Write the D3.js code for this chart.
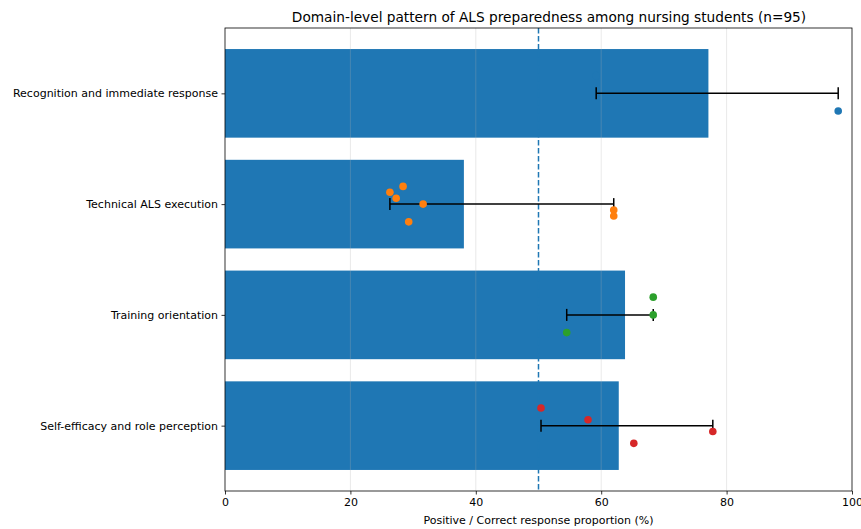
<!DOCTYPE html>
<html>
<head>
<meta charset="utf-8">
<script src="https://cdn.jsdelivr.net/npm/d3@7"></script>
<style>
  body { margin: 0; background: #fff; }
  text { font-family: "DejaVu Sans", sans-serif; fill: #000; }
</style>
</head>
<body>
<div id="chart"></div>
<script>
const categories = [
  'Recognition and immediate response',
  'Technical ALS execution',
  'Training orientation',
  'Self-efficacy and role perception'
];
const barValues = [77.1, 38.1, 63.8, 62.8];
const itemValues = [
  [59.2, 97.8],
  [28.4, 26.3, 27.3, 31.6, 62.0, 62.0, 29.3],
  [68.3, 68.3, 54.5],
  [50.4, 57.9, 77.8, 65.2]
];
const dotColors = ['#1f77b4', '#ff7f0e', '#2ca02c', '#d62728'];
const xTicks = [0, 20, 40, 60, 80, 100];
const refLine = 50;

const width = 861, height = 529;
const margin = { top: 28, right: 9, bottom: 38, left: 225 };

const svg = d3.select('#chart').append('svg')
  .attr('width', width)
  .attr('height', height);

const x = d3.scaleLinear().domain([0, 100]).range([margin.left, width - margin.right]);
// bars occupy index +/- 0.4, with 5% margins like matplotlib
const y = d3.scaleLinear().domain([-0.59, categories.length - 1 + 0.59]).range([margin.top, height - margin.bottom]);
const bandPx = y(1) - y(0);

// bars
svg.append('g').selectAll('rect')
  .data(barValues)
  .enter()
  .append('rect')
  .attr('x', x(0))
  .attr('y', (d, i) => y(i - 0.4))
  .attr('width', d => x(d) - x(0))
  .attr('height', 0.8 * bandPx)
  .attr('fill', '#1f77b4');

// grid on top of bars
svg.append('g').selectAll('line')
  .data(xTicks.slice(1, -1))
  .enter()
  .append('line')
  .attr('x1', d => x(d)).attr('x2', d => x(d))
  .attr('y1', margin.top).attr('y2', height - margin.bottom)
  .attr('stroke', '#b0b0b0')
  .attr('stroke-opacity', 0.35)
  .attr('stroke-width', 0.8);

// reference line at 50%
svg.append('line')
  .attr('x1', x(refLine)).attr('x2', x(refLine))
  .attr('y1', margin.top).attr('y2', height - margin.bottom)
  .attr('stroke', '#1f77b4')
  .attr('stroke-width', 1.5)
  .attr('stroke-dasharray', '5.5,2.5');

// error bars (min-max of items)
const err = svg.append('g');
itemValues.forEach((vals, i) => {
  const lo = d3.min(vals), hi = d3.max(vals);
  const cy = y(i);
  err.append('line')
    .attr('x1', x(lo)).attr('x2', x(hi))
    .attr('y1', cy).attr('y2', cy)
    .attr('stroke', '#000').attr('stroke-width', 1.5);
  [lo, hi].forEach(v => {
    err.append('line')
      .attr('x1', x(v)).attr('x2', x(v))
      .attr('y1', cy - 6).attr('y2', cy + 6)
      .attr('stroke', '#000').attr('stroke-width', 1.5);
  });
});

// item dots, spread vertically within each band
const dots = svg.append('g');
itemValues.forEach((vals, i) => {
  const n = vals.length;
  vals.forEach((v, j) => {
    const off = n === 1 ? 0 : -0.16 + 0.32 * j / (n - 1);
    dots.append('circle')
      .attr('cx', x(v))
      .attr('cy', y(i + off))
      .attr('r', 3.8)
      .attr('fill', dotColors[i]);
  });
});

// frame
svg.append('rect')
  .attr('x', margin.left).attr('y', margin.top)
  .attr('width', x(100) - x(0))
  .attr('height', height - margin.bottom - margin.top)
  .attr('fill', 'none')
  .attr('stroke', '#000')
  .attr('stroke-width', 0.8);

// x axis
const xAxis = svg.append('g')
  .attr('transform', `translate(0,${height - margin.bottom})`)
  .call(d3.axisBottom(x).tickValues(xTicks).tickSize(3.5).tickPadding(3.5));
xAxis.select('.domain').remove();
xAxis.selectAll('text').attr('font-size', 11).attr('fill', '#000');
xAxis.selectAll('line').attr('stroke', '#000').attr('stroke-width', 0.8);

// y axis
const yAxis = svg.append('g')
  .attr('transform', `translate(${margin.left},0)`)
  .call(d3.axisLeft(y).tickValues(d3.range(categories.length)).tickFormat(i => categories[i]).tickSize(3.5).tickPadding(3.5));
yAxis.select('.domain').remove();
yAxis.selectAll('text').attr('font-size', 11).attr('fill', '#000');
yAxis.selectAll('line').attr('stroke', '#000').attr('stroke-width', 0.8);

// labels
svg.append('text')
  .attr('x', 549)
  .attr('y', 22)
  .attr('text-anchor', 'middle')
  .attr('font-size', 13.7)
  .text('Domain-level pattern of ALS preparedness among nursing students (n=95)');

svg.append('text')
  .attr('x', (x(0) + x(100)) / 2)
  .attr('y', 524)
  .attr('text-anchor', 'middle')
  .attr('font-size', 11)
  .text('Positive / Correct response proportion (%)');
</script>
</body>
</html>
